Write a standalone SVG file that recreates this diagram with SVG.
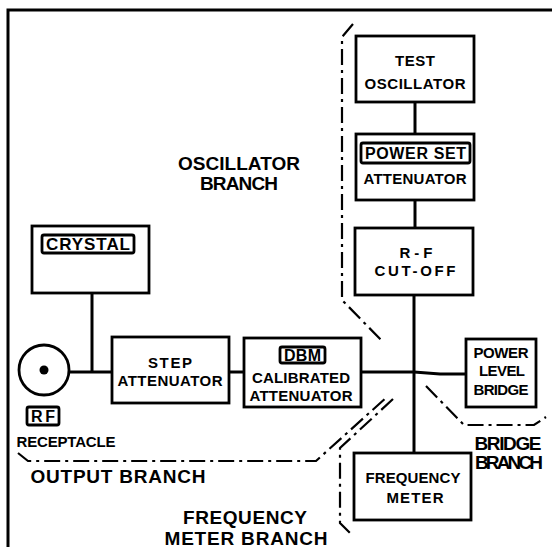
<svg xmlns="http://www.w3.org/2000/svg" width="552" height="547" viewBox="0 0 552 547">
<defs>
<style>
.box{fill:none;stroke:#000;stroke-width:2.8}
.tag{fill:none;stroke:#000;stroke-width:2.8}
.wire{fill:none;stroke:#000;stroke-width:3}
.dash{fill:none;stroke:#000;stroke-width:2.2;stroke-dasharray:16 5 3 5}
.t{font-family:"Liberation Sans",Arial,sans-serif;font-weight:bold;fill:#000;text-anchor:middle;dominant-baseline:central}
.b{font-size:15px}
.l{font-size:19px}
</style>
</defs>
<rect x="0" y="0" width="552" height="547" fill="#fff"/>
<g id="frame"><path d="M8 547 V10 H552" fill="none" stroke="#000" stroke-width="3"/></g>

<g id="connectors">
<line class="wire" x1="415" y1="102" x2="415" y2="134"/>
<line class="wire" x1="415" y1="200" x2="415" y2="228"/>
<line class="wire" x1="414" y1="295" x2="414" y2="453"/>
<line class="wire" x1="361" y1="372" x2="414" y2="372"/>
<polyline class="wire" points="414,372 440,374 466,374"/>
<line class="wire" x1="229" y1="372" x2="244" y2="372"/>
<line class="wire" x1="69" y1="372" x2="112" y2="372"/>
<line class="wire" x1="92" y1="293" x2="92" y2="372"/>
</g>

<g id="boundaries">
<polyline class="dash" points="353,24 342,37 342,300 383,342"/>
<polyline class="dash" points="18,453 28,461 316,461 388,396"/>
<polyline class="dash" points="393,399 340,448 340,523 353,536"/>
<polyline class="dash" points="426,386 464,425 534,425 546,417"/>
</g>

<g id="test-oscillator">
<rect class="box" x="356" y="36" width="118" height="66"/>
<text class="t b" x="415" y="60" textLength="40">TEST</text>
<text class="t b" x="415" y="83" textLength="101">OSCILLATOR</text>
</g>

<g id="power-set-attenuator">
<rect class="box" x="356" y="134" width="118" height="66"/>
<rect class="tag" x="361" y="143" width="109" height="20" rx="2"/>
<text class="t" style="font-size:16px" x="415.5" y="153.5" textLength="101">POWER SET</text>
<text class="t b" x="415" y="178" textLength="103">ATTENUATOR</text>
</g>

<g id="rf-cutoff">
<rect class="box" x="355" y="228" width="118" height="67"/>
<text class="t b" x="416" y="252" textLength="33">R-F</text>
<text class="t b" x="415" y="270" textLength="81">CUT-OFF</text>
</g>

<g id="crystal">
<rect class="box" x="32" y="226" width="117" height="67"/>
<rect class="tag" x="42" y="235" width="92" height="18" rx="2"/>
<text class="t" style="font-size:17px" x="88" y="244.5" textLength="84">CRYSTAL</text>
</g>

<g id="rf-receptacle">
<circle cx="44" cy="370" r="25" fill="none" stroke="#000" stroke-width="2.8"/>
<circle cx="44" cy="370" r="4.5" fill="#000"/>
<rect class="tag" x="27" y="407" width="32" height="18" rx="2"/>
<text class="t" style="font-size:16px" x="43" y="416.5" textLength="24">RF</text>
<text class="t b" x="66" y="441" textLength="99">RECEPTACLE</text>
</g>

<g id="step-attenuator">
<rect class="box" x="112" y="337" width="117" height="66"/>
<text class="t b" x="170" y="362" textLength="44">STEP</text>
<text class="t b" x="170" y="380" textLength="105">ATTENUATOR</text>
</g>

<g id="calibrated-attenuator">
<rect class="box" x="244" y="338" width="117" height="69"/>
<rect class="tag" x="280" y="347" width="45" height="16" rx="2"/>
<text class="t" style="font-size:16px" x="302.5" y="355.5" textLength="37">DBM</text>
<text class="t b" x="301" y="377" textLength="98">CALIBRATED</text>
<text class="t b" x="301" y="395" textLength="103">ATTENUATOR</text>
</g>

<g id="power-level-bridge">
<rect class="box" x="466" y="339" width="70" height="68"/>
<text class="t b" x="501" y="352" textLength="55">POWER</text>
<text class="t b" x="502" y="370" textLength="46">LEVEL</text>
<text class="t b" x="501" y="389" textLength="55">BRIDGE</text>
</g>

<g id="frequency-meter">
<rect class="box" x="354" y="453" width="117" height="67"/>
<text class="t b" x="413" y="477" textLength="95">FREQUENCY</text>
<text class="t b" x="415" y="497" textLength="57">METER</text>
</g>

<g id="labels">
<text class="t l" x="239" y="163" textLength="122">OSCILLATOR</text>
<text class="t l" x="239" y="183" textLength="78">BRANCH</text>
<text class="t l" x="118" y="476" textLength="175">OUTPUT BRANCH</text>
<text class="t l" x="245" y="517" textLength="124">FREQUENCY</text>
<text class="t l" x="246" y="538" textLength="163">METER BRANCH</text>
<text class="t l" x="508" y="443" textLength="67">BRIDGE</text>
<text class="t l" x="509" y="462" textLength="68">BRANCH</text>
</g>
</svg>
